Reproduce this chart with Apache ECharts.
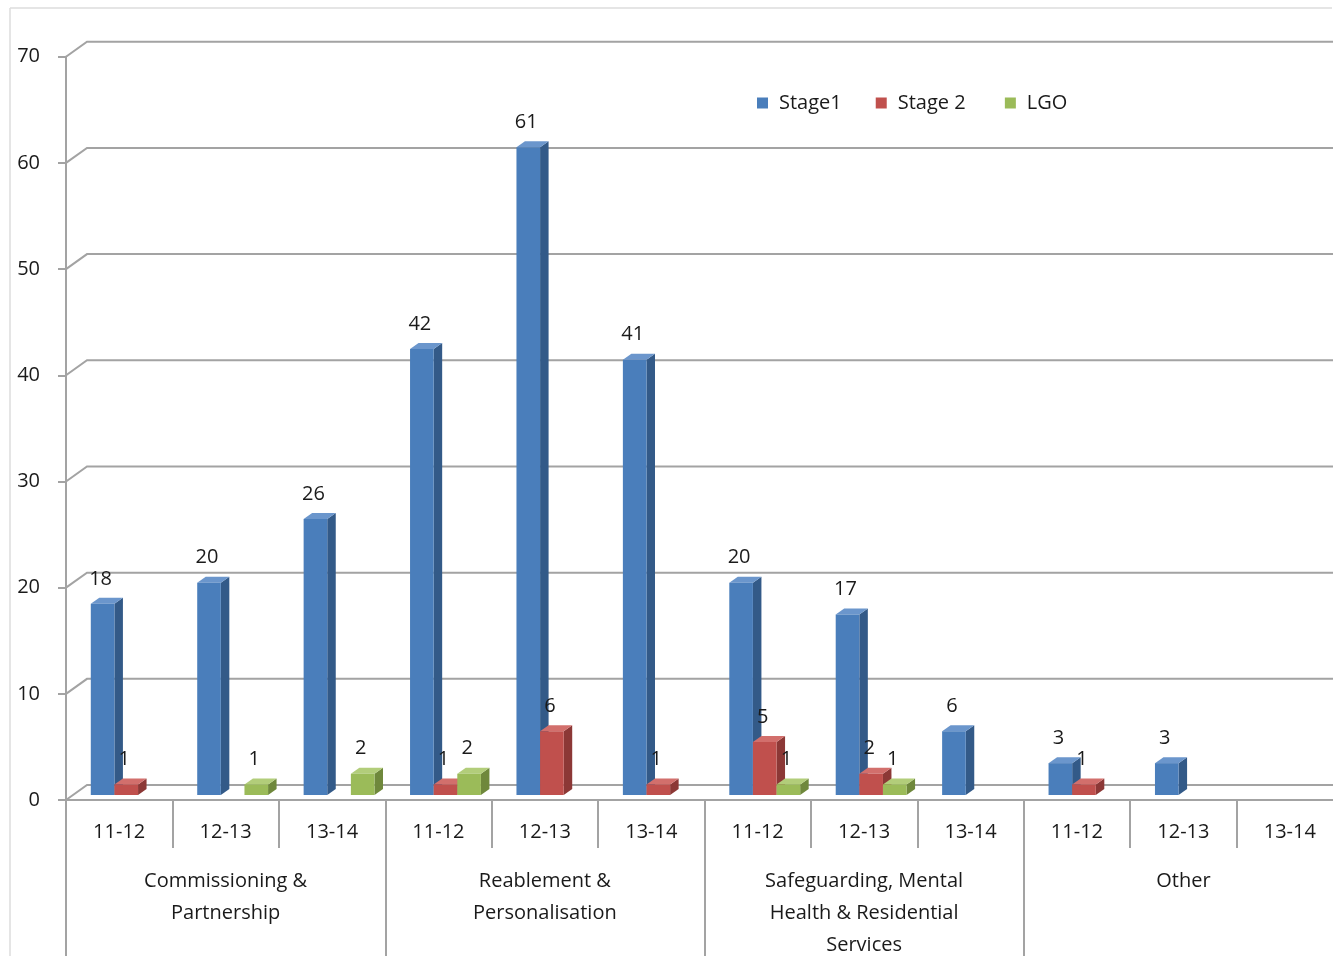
<!DOCTYPE html>
<html>
<head>
<meta charset="utf-8">
<script src="https://cdn.jsdelivr.net/npm/echarts@6/dist/echarts.min.js"></script>
<style>
html,body{margin:0;padding:0;background:#fff;}
#chart{width:1340px;height:956px;}
</style>
</head>
<body>
<div id="chart"></div>
<script>
// ---- data ----
const periods = ['11-12','12-13','13-14','11-12','12-13','13-14','11-12','12-13','13-14','11-12','12-13','13-14'];
const groups = ['Commissioning &\nPartnership','Reablement &\nPersonalisation','Safeguarding, Mental\nHealth & Residential\nServices','Other'];
const stage1 = [18, 20, 26, 42, 61, 41, 20, 17, 6, 3, 3, null];
const stage2 = [1, null, null, 1, 6, 1, 5, 2, null, 1, null, null];
const lgo = [null, 1, 2, 2, null, null, 1, 1, null, null, null, null];
const yTicks = [0, 10, 20, 30, 40, 50, 60, 70];
const seriesNames = ['Stage1', 'Stage 2', 'LGO'];

const FONT = 'Open Sans';
const FS = 20;
const TXT = '#1a1a1a';
const GRID_LINE = '#a3a3a3';
const palette = [
  {front:'#4a7ebb', side:'#335a88', top:'#6b96cc'},
  {front:'#c0504d', side:'#8c3836', top:'#d26f6c'},
  {front:'#9bbb59', side:'#6f883c', top:'#b2cd7a'}
];

const chart = echarts.init(document.getElementById('chart'), null, {renderer:'canvas'});

function barSeries(name, values, s) {
  const data = [];
  values.forEach((v, i) => { if (v !== null) data.push([i, v]); });
  return {
    name: name,
    type: 'custom',
    xAxisIndex: 0, yAxisIndex: 0,
    z: 3,
    itemStyle: {color: palette[s].front},
    encode: {x: 0, y: 1},
    data: data,
    renderItem: function (params, api) {
      const ci = api.value(0), v = api.value(1);
      const base = api.coord([ci, 0]);
      const top = api.coord([ci, v]);
      const catW = api.size([1, 0])[0];
      const bw = catW * 0.222;
      const x0 = base[0] - 1.5 * bw + catW * 0.066 + s * bw;
      const yb = base[1] - 5, yt = top[1] - 5;
      const dx = 8.5, dy = 6;
      const c = palette[s];
      return {
        type: 'group',
        children: [
          {type:'polygon', shape:{points:[[x0+bw,yt],[x0+bw+dx,yt-dy],[x0+bw+dx,yb-dy],[x0+bw,yb]]}, style:{fill:c.side}},
          {type:'polygon', shape:{points:[[x0,yt],[x0+dx,yt-dy],[x0+bw+dx,yt-dy],[x0+bw,yt]]}, style:{fill:c.top}},
          {type:'rect', shape:{x:x0, y:yt, width:bw, height:yb-yt}, style:{fill:c.front}},
          {type:'text', z2: 100, style:{text:String(v), x:x0+bw/2-2, y:yt-25, align:'center', verticalAlign:'middle', fill:TXT, font:FS + 'px "' + FONT + '"'}}
        ]
      };
    }
  };
}

const wallSeries = {
  type: 'custom',
  name: 'walls',
  xAxisIndex: 0, yAxisIndex: 0,
  z: 1,
  silent: true,
  encode: {x: 0, y: 1},
  data: yTicks.map(v => [0, v]),
  renderItem: function (params, api) {
    const v = api.value(1);
    const p = api.coord([0, v]);
    const x0 = params.coordSys.x;
    const xEnd = params.coordSys.x + params.coordSys.width - 10;
    const y = p[1];
    const children = [
      {type:'polyline', shape:{points:[[x0,y],[x0+21,y-15],[xEnd,y-15]]}, style:{stroke:GRID_LINE, lineWidth:2, fill:null}}
    ];
    if (v === 0) {
      children.push({type:'line', shape:{x1:x0, y1:y, x2:xEnd, y2:y}, style:{stroke:GRID_LINE, lineWidth:2}});
    }
    return {type:'group', children: children};
  }
};

const option = {
  backgroundColor: '#fff',
  animation: false,
  textStyle: {fontFamily: FONT},
  graphic: [
    {type:'line', shape:{x1:10, y1:8, x2:1332, y2:8}, style:{stroke:'#dcdcdc', lineWidth:1.5}},
    {type:'line', shape:{x1:10, y1:8, x2:10, y2:956}, style:{stroke:'#dcdcdc', lineWidth:1.5}}
  ],
  legend: {
    data: seriesNames,
    top: 88,
    left: 752,
    icon: 'rect',
    itemWidth: 11,
    itemHeight: 11,
    itemGap: 34,
    formatter: function (name) {
      return name === 'Stage 2' ? name + '\u00a0' : name;
    },
    textStyle: {fontSize: FS, color: TXT, fontFamily: FONT, padding:[0,0,0,6]}
  },
  grid: {left: 66, top: 56.7, right: -3, bottom: 156, containLabel: false, outerBoundsMode: 'none'},
  xAxis: [
    {
      type: 'category',
      data: periods,
      position: 'bottom',
      axisLine: {show: false},
      axisTick: {show: true, interval: 0, length: 48, lineStyle: {color: GRID_LINE, width: 2}},
      axisLabel: {interval: 0, fontSize: FS, color: TXT, margin: 22, fontFamily: FONT},
      splitLine: {show: false}
    },
    {
      type: 'category',
      data: groups,
      position: 'bottom',
      axisLine: {show: false},
      axisTick: {show: true, interval: 0, length: 160, lineStyle: {color: GRID_LINE, width: 2}},
      axisLabel: {interval: 0, fontSize: FS, color: TXT, margin: 65, lineHeight: 32, fontFamily: FONT},
      splitLine: {show: false}
    }
  ],
  yAxis: {
    type: 'value',
    min: 0, max: 70, interval: 10,
    axisLine: {show: true, lineStyle: {color: GRID_LINE, width: 2}},
    axisTick: {show: true, length: 8, lineStyle: {color: GRID_LINE, width: 2}},
    axisLabel: {fontSize: FS, color: TXT, margin: 26, fontFamily: FONT},
    splitLine: {show: false}
  },
  series: [
    wallSeries,
    barSeries(seriesNames[0], stage1, 0),
    barSeries(seriesNames[1], stage2, 1),
    barSeries(seriesNames[2], lgo, 2)
  ]
};
chart.setOption(option);
</script>
</body>
</html>
